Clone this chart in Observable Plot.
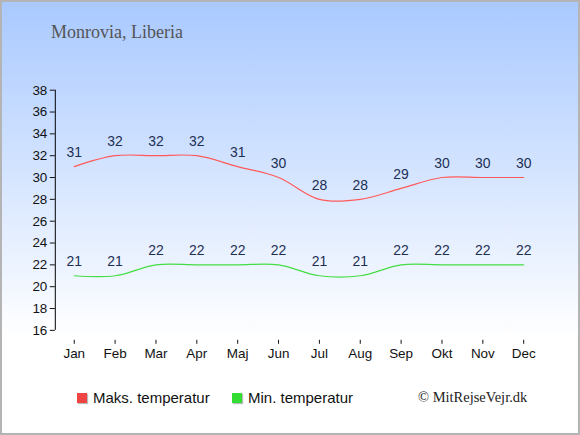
<!DOCTYPE html>
<html>
<head>
<meta charset="utf-8">
<script src="https://cdn.jsdelivr.net/npm/d3@7"></script>
<script src="https://cdn.jsdelivr.net/npm/@observablehq/plot@0.6"></script>
<style>
  html, body { margin: 0; padding: 0; }
  #wrap {
    position: relative; width: 580px; height: 435px; box-sizing: border-box;
    border: 2px solid #b4b4b4;
    background: linear-gradient(to bottom, #a9c9ff 0%, #ffffff 78%, #ffffff 100%);
    overflow: hidden;
  }
  #title {
    position: absolute; left: 49px; top: 20px;
    font-family: "Liberation Serif", serif; font-size: 18px; color: #555;
  }
  #chart { position: absolute; left: -2px; top: -2px; }
  .leg { position: absolute; top: 387px; font-family: "Liberation Sans", Arial, sans-serif; font-size: 15px; color: #111; }
  .sw { position: absolute; top: 391px; width: 10px; height: 10px; box-shadow: 1px 1px 1px #bbb; }
  #copy { position: absolute; left: 416px; top: 387px; font-family: "Liberation Serif", serif; font-size: 14.5px; color: #222; }
</style>
</head>
<body>
<div id="wrap">
  <div id="title">Monrovia, Liberia</div>
  <div id="chart"></div>
  <div class="sw" style="left:75px;background:#ee4444"></div>
  <div class="leg" style="left:91px">Maks. temperatur</div>
  <div class="sw" style="left:230px;background:#33dd33"></div>
  <div class="leg" style="left:246px">Min. temperatur</div>
  <div id="copy">© MitRejseVejr.dk</div>
</div>
<script>
const months = ["Jan","Feb","Mar","Apr","Maj","Jun","Jul","Aug","Sep","Okt","Nov","Dec"];
const maxTemp = [31,32,32,32,31,30,28,28,29,30,30,30];
const minTemp = [21,21,22,22,22,22,21,21,22,22,22,22];
const yTicks = [16,18,20,22,24,26,28,30,32,34,36,38];

const maxData = months.map((m, i) => ({month: m, value: maxTemp[i]}));
const minData = months.map((m, i) => ({month: m, value: minTemp[i]}));

const plot = Plot.plot({
  width: 580,
  height: 435,
  marginLeft: 55,
  marginRight: 55,
  marginTop: 90,
  marginBottom: 94,
  insetLeft: 19,
  insetBottom: 10,
  style: {background: "transparent", fontFamily: "Liberation Sans, Arial, sans-serif", fontSize: "13px", color: "#111"},
  x: {type: "point", domain: months, padding: 0},
  y: {domain: [16, 38]},
  marks: [
    Plot.axisY({ticks: yTicks, tickSize: 5, tickPadding: 3, label: null, fontSize: 13.5}),
    Plot.axisX({tickSize: 4, tickPadding: 4, label: null, fontSize: 13.5}),
    Plot.ruleX(["Jan"], {y1: 16, y2: 38, dx: -19, stroke: "#000"}),
    Plot.ruleY([16], {x1: "Jan", x2: "Dec", dy: 10, stroke: "#000"}),
    Plot.line(maxData, {x: "month", y: "value", stroke: "#ff5a5a", strokeWidth: 1.2, curve: "catmull-rom"}),
    Plot.line(minData, {x: "month", y: "value", stroke: "#44dd44", strokeWidth: 1.2, curve: "catmull-rom"}),
    Plot.text(maxData, {x: "month", y: "value", text: "value", dy: -14, fill: "#1c2f55", fontSize: 14}),
    Plot.text(minData, {x: "month", y: "value", text: "value", dy: -14, fill: "#1c2f55", fontSize: 14})
  ]
});
document.getElementById("chart").appendChild(plot);
</script>
</body>
</html>
